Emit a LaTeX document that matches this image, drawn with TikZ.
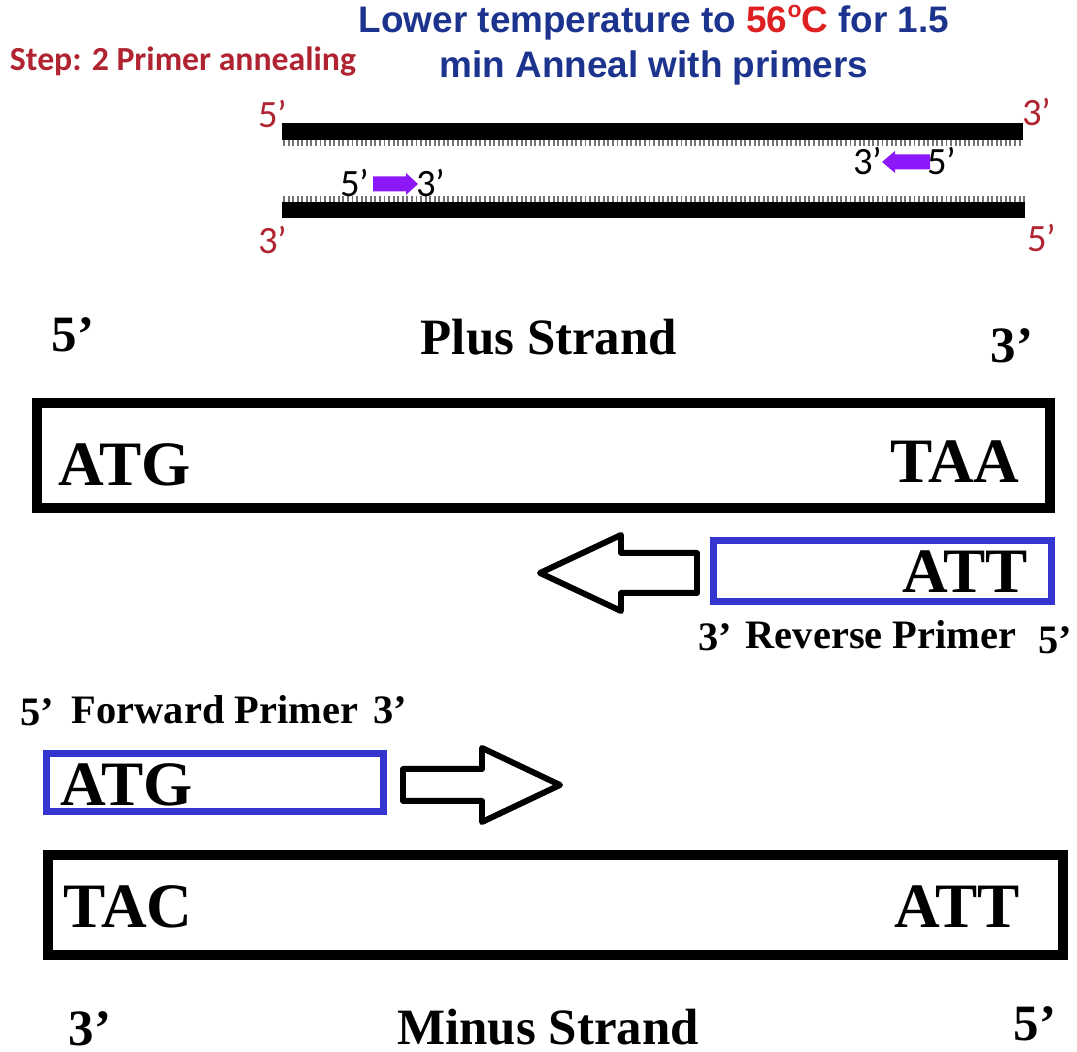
\documentclass[tikz,border=0pt]{standalone}
\usepackage{fontspec}
\setmainfont{Liberation Serif}
\newfontfamily\calibri{Carlito}
\newfontfamily\arial{Liberation Sans}
\usetikzlibrary{calc}

\definecolor{stepred}{RGB}{176,36,50}
\definecolor{headblue}{RGB}{28,52,142}
\definecolor{hotred}{RGB}{222,32,32}
\definecolor{primerblue}{RGB}{52,52,206}
\definecolor{oligo}{RGB}{140,24,250}

\tikzset{
  strandbox/.style={draw=black, line width=2.8pt},
  primerbox/.style={draw=primerblue, line width=2pt},
  hollow/.style={draw=black, line width=1.7pt, line join=round},
  basepair/.style={black!55, line width=0.065cm, dash pattern=on 0.55pt off 0.75pt},
  endlbl/.style={font=\calibri\fontsize{11}{11}\selectfont},
  codon/.style={font=\bfseries\fontsize{18}{18}\selectfont},
  strandlbl/.style={font=\bfseries\fontsize{14.5}{15}\selectfont},
  primerlbl/.style={font=\bfseries\fontsize{11.5}{12}\selectfont}
}

\begin{document}
\begin{tikzpicture}
    \useasboundingbox (0,0) rectangle (10.77,10.52);

    % Titel
    \node[font=\calibri\bfseries\fontsize{9.6}{10}\selectfont, text=stepred] (step) at (1.83,9.90) {Step: 2 Primer annealing};
    \node[font=\arial\bfseries\fontsize{10.5}{12.8}\selectfont, text=headblue, align=center] (temp) at (6.54,10.07)
        {Lower temperature to \textcolor{hotred}{56\raisebox{0.75ex}{\fontsize{6.5}{6.5}\selectfont o}C} for 1.5\\min Anneal with primers};

    % Doppelstrang oben
    \fill (2.82,9.12) rectangle (10.23,9.29);
    \draw[basepair] (2.83,9.09) -- (10.23,9.09);
    \fill (2.82,8.34) rectangle (10.25,8.50);
    \draw[basepair] (2.83,8.53) -- (10.25,8.53);
    \node[endlbl, text=stepred] (t5) at (2.73,9.38) {5’};
    \node[endlbl, text=stepred] (t3) at (10.37,9.40) {3’};
    \node[endlbl, text=stepred] (b3) at (2.73,8.12) {3’};
    \node[endlbl, text=stepred] (b5) at (10.42,8.14) {5’};

    % Primer (klein)
    \fill[oligo] (3.73,8.755) -- (4.06,8.755) -- (4.06,8.79) -- (4.18,8.68) -- (4.06,8.57) -- (4.06,8.605) -- (3.73,8.605) -- cycle;
    \node[endlbl] (fp5) at (3.55,8.69) {5’};
    \node[endlbl] (fp3) at (4.31,8.69) {3’};
    \fill[oligo] (9.30,8.975) -- (8.95,8.975) -- (8.95,9.01) -- (8.82,8.90) -- (8.95,8.79) -- (8.95,8.825) -- (9.30,8.825) -- cycle;
    \node[endlbl] (rp3) at (8.68,8.91) {3’};
    \node[endlbl] (rp5) at (9.42,8.91) {5’};

    % Plus-Strang
    \node[strandlbl] (p5) at (0.73,7.17) {5’};
    \node[strandlbl] (plus) at (5.49,7.15) {Plus Strand};
    \node[strandlbl] (p3) at (10.12,7.06) {3’};
    \draw[strandbox] (0.37,5.44) rectangle (10.50,6.49);
    \node[codon] (atg) at (1.25,5.87) {ATG};
    \node[codon] (taa) at (9.55,5.90) {TAA};

    % Reverse Primer
    \draw[primerbox] (7.135,4.505) rectangle (10.515,5.115);
    \node[codon] (att) at (9.65,4.80) {ATT};
    \draw[hollow] (6.97,4.99) -- (6.21,4.99) -- (6.21,5.17) -- (5.40,4.79) -- (6.21,4.41) -- (6.21,4.59) -- (6.97,4.59) -- cycle;
    \node[primerlbl] (r3) at (7.15,4.15) {3’};
    \node[primerlbl] (rev) at (8.81,4.17) {Reverse Primer};
    \node[primerlbl] (r5) at (10.55,4.12) {5’};

    % Forward Primer
    \node[primerlbl] (f5) at (0.37,3.40) {5’};
    \node[primerlbl] (fwd) at (2.15,3.42) {Forward Primer};
    \node[primerlbl] (f3) at (3.90,3.42) {3’};
    \draw[primerbox] (0.465,2.405) rectangle (3.835,2.985);
    \node[codon] (atg2) at (1.27,2.67) {ATG};
    \draw[hollow] (4.03,2.83) -- (4.82,2.83) -- (4.82,3.04) -- (5.60,2.67) -- (4.82,2.30) -- (4.82,2.51) -- (4.03,2.51) -- cycle;

    % Minus-Strang
    \draw[strandbox] (0.48,0.97) rectangle (10.63,1.97);
    \node[codon] (tac) at (1.28,1.45) {TAC};
    \node[codon] (att2) at (9.57,1.45) {ATT};
    \node[strandlbl] (m3) at (0.90,0.23) {3’};
    \node[strandlbl] (minus) at (5.48,0.25) {Minus Strand};
    \node[strandlbl] (m5) at (10.35,0.28) {5’};
\end{tikzpicture}
\end{document}
